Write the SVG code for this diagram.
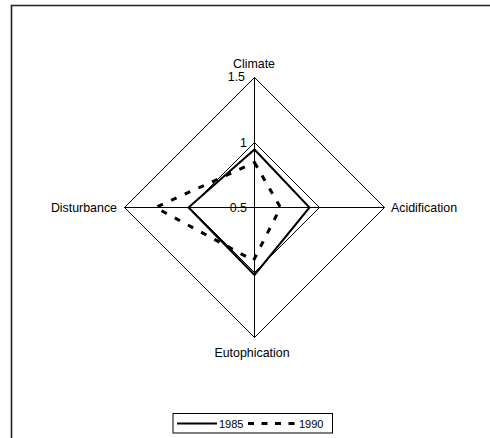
<svg xmlns="http://www.w3.org/2000/svg" width="490" height="438" viewBox="0 0 490 438">
<style>
text{font-family:"Liberation Sans",Arial,sans-serif;font-size:12.4px;fill:#000}
.lg{font-size:11px}
.grid{fill:none;stroke:#000;stroke-width:1}
.s85{fill:none;stroke:#000;stroke-width:2}
.s90{fill:none;stroke:#000;stroke-width:3;stroke-dasharray:6 9}
.lgd{stroke-dasharray:6 7.5}
</style>
<rect x="0" y="0" width="490" height="438" fill="#fff"/>
<path d="M11.5,450 V5.5 H500" fill="none" stroke="#222" stroke-width="1.6"/>
<g id="grid">
<polygon class="grid" points="254.5,77.5 384.5,207.5 254.5,337.5 124.5,207.5"/>
<polygon class="grid" points="254.5,142.5 319.5,207.5 254.5,272.5 189.5,207.5"/>
<line class="grid" x1="254.5" y1="207.5" x2="254.5" y2="77.5"/>
<line class="grid" x1="254.5" y1="207.5" x2="384.5" y2="207.5"/>
<line class="grid" x1="254.5" y1="207.5" x2="254.5" y2="337.5"/>
<line class="grid" x1="254.5" y1="207.5" x2="124.5" y2="207.5"/>
</g>
<g id="scale">
<text x="245" y="81" text-anchor="end">1.5</text>
<text x="247" y="147" text-anchor="end">1</text>
<text x="247" y="212" text-anchor="end">0.5</text>
</g>
<g id="axis-labels">
<text x="254" y="68" text-anchor="middle">Climate</text>
<text x="391" y="212">Acidification</text>
<text x="252" y="357" text-anchor="middle">Eutophication</text>
<text x="117" y="212" text-anchor="end">Disturbance</text>
</g>
<g id="series">
<polygon class="s85" points="254.5,149.5 309.5,207.5 254.5,275 188.5,207.5"/>
<polygon class="s90" points="254.5,162.5 280.5,207.5 253.5,260.5 155.5,207.5"/>
</g>
<g id="legend">
<rect x="173" y="413.5" width="159.5" height="19.5" fill="#fff" stroke="#000" stroke-width="1"/>
<line class="s85" x1="177" y1="423.5" x2="217" y2="423.5"/>
<text class="lg" x="219" y="427.5">1985</text>
<line class="s90 lgd" x1="248" y1="423.5" x2="295.5" y2="423.5"/>
<text class="lg" x="299" y="427.5">1990</text>
</g>
</svg>
